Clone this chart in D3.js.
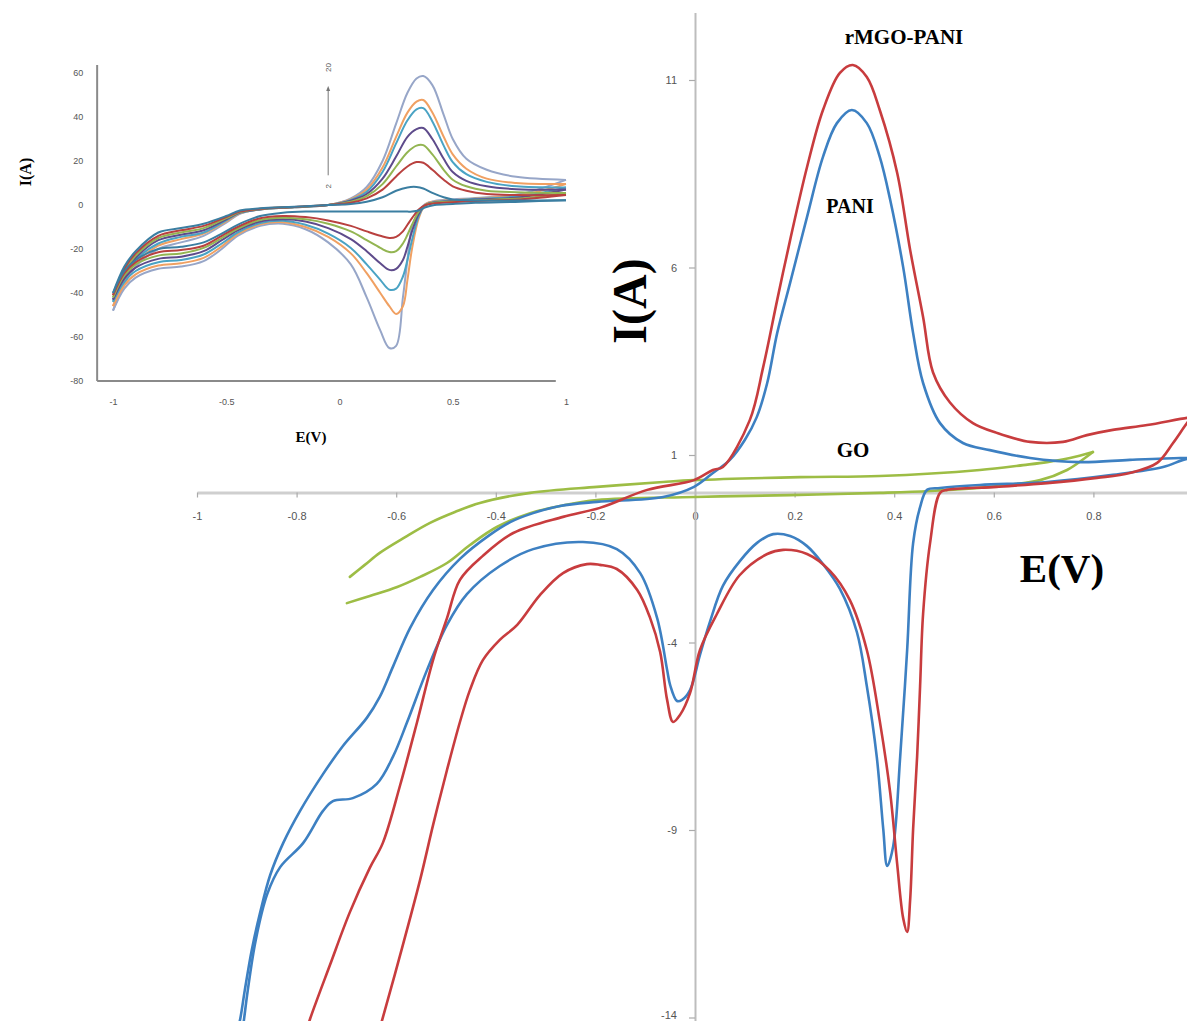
<!DOCTYPE html>
<html>
<head>
<meta charset="utf-8">
<script src="https://cdn.jsdelivr.net/npm/d3@7"></script>
<style>
html,body{margin:0;padding:0;background:#fff;}
svg{display:block;}
</style>
</head>
<body>
<svg id="chart" width="1187" height="1021"></svg>
<script>
// ---------------- main chart data (E in V, I in A) ----------------
const mainXTicks = [-1, -0.8, -0.6, -0.4, -0.2, 0, 0.2, 0.4, 0.6, 0.8];
const mainYTicks = [-14, -9, -4, 1, 6, 11];

const rmgoForward = [[-0.783,-14.47],[-0.773,-14.04],[-0.733,-12.6],[-0.693,-11.19],[-0.653,-10.01],[-0.627,-9.35],[-0.592,-7.8],[-0.558,-6.12],[-0.526,-4.47],[-0.498,-3.35],[-0.472,-2.33],[-0.426,-1.69],[-0.365,-1.08],[-0.265,-0.65],[-0.191,-0.41],[-0.096,0.07],[-0.002,0.33],[0.036,0.6],[0.056,0.68],[0.110,1.93],[0.137,3.35],[0.165,5.13],[0.191,6.73],[0.225,8.68],[0.257,10.2],[0.291,11.19],[0.317,11.4],[0.345,11.08],[0.371,10.2],[0.406,8.52],[0.432,6.47],[0.458,4.68],[0.478,3.2],[0.512,2.4],[0.558,1.85],[0.606,1.59],[0.673,1.35],[0.739,1.35],[0.787,1.53],[0.839,1.67],[0.908,1.8],[0.988,1.99],[0.998,2.0]];
const rmgoReverse = [[0.998,2.0],[0.988,1.85],[0.960,1.32],[0.928,0.79],[0.873,0.52],[0.807,0.39],[0.707,0.25],[0.606,0.15],[0.506,0.07],[0.492,-0.01],[0.472,-1.35],[0.458,-3.24],[0.452,-5.16],[0.446,-7.05],[0.438,-8.97],[0.432,-10.87],[0.426,-11.72],[0.418,-11.35],[0.406,-9.91],[0.392,-8.01],[0.371,-6.09],[0.345,-4.2],[0.311,-2.87],[0.271,-2.09],[0.225,-1.64],[0.177,-1.53],[0.145,-1.64],[0.090,-2.2],[0.044,-3.24],[0.010,-4.2],[-0.010,-5.35],[-0.030,-5.93],[-0.044,-6.12],[-0.056,-5.53],[-0.070,-4.25],[-0.090,-3.35],[-0.116,-2.6],[-0.157,-2.04],[-0.191,-1.93],[-0.217,-1.91],[-0.265,-2.15],[-0.311,-2.73],[-0.357,-3.53],[-0.392,-3.93],[-0.426,-4.47],[-0.452,-5.27],[-0.472,-6.12],[-0.498,-7.4],[-0.526,-8.87],[-0.552,-10.33],[-0.592,-12.33],[-0.627,-14.01],[-0.637,-14.47]];

const paniForward = [[-0.922,-14.47],[-0.914,-14.09],[-0.904,-13.27],[-0.890,-12.2],[-0.873,-11.19],[-0.853,-10.2],[-0.827,-9.35],[-0.793,-8.49],[-0.747,-7.51],[-0.707,-6.76],[-0.659,-6.01],[-0.633,-5.45],[-0.606,-4.63],[-0.572,-3.61],[-0.526,-2.6],[-0.472,-1.77],[-0.412,-1.13],[-0.371,-0.79],[-0.325,-0.55],[-0.271,-0.36],[-0.197,-0.25],[-0.064,-0.12],[-0.002,0.15],[0.036,0.52],[0.070,0.87],[0.100,1.4],[0.124,2.01],[0.145,2.92],[0.165,4.25],[0.191,5.59],[0.225,7.35],[0.257,8.95],[0.285,9.85],[0.315,10.2],[0.345,9.85],[0.371,8.95],[0.392,7.8],[0.418,6.01],[0.438,4.25],[0.458,2.92],[0.492,1.85],[0.538,1.32],[0.592,1.13],[0.673,0.92],[0.773,0.81],[0.873,0.87],[0.974,0.92],[0.998,0.92]];
const paniReverse = [[0.998,0.92],[0.980,0.87],[0.940,0.68],[0.839,0.47],[0.707,0.28],[0.572,0.2],[0.492,0.12],[0.466,0.07],[0.452,-0.39],[0.438,-1.35],[0.426,-4.2],[0.412,-7.05],[0.398,-9.43],[0.386,-9.96],[0.378,-8.97],[0.365,-7.05],[0.345,-5.16],[0.325,-3.72],[0.291,-2.57],[0.257,-1.91],[0.225,-1.43],[0.191,-1.16],[0.157,-1.11],[0.124,-1.35],[0.090,-1.83],[0.056,-2.49],[0.030,-3.45],[0.010,-4.33],[-0.010,-5.27],[-0.026,-5.53],[-0.036,-5.56],[-0.050,-5.13],[-0.056,-4.73],[-0.076,-3.35],[-0.110,-2.15],[-0.157,-1.51],[-0.225,-1.32],[-0.325,-1.51],[-0.392,-1.96],[-0.458,-2.71],[-0.498,-3.53],[-0.538,-4.73],[-0.578,-6.12],[-0.606,-7.03],[-0.639,-7.77],[-0.687,-8.15],[-0.727,-8.23],[-0.747,-8.49],[-0.787,-9.35],[-0.833,-9.99],[-0.859,-10.71],[-0.882,-11.93],[-0.898,-13.27],[-0.906,-14.09],[-0.910,-14.47]];

const goForward = [[-0.693,-2.25],[-0.663,-1.93],[-0.633,-1.61],[-0.582,-1.19],[-0.532,-0.81],[-0.482,-0.52],[-0.432,-0.28],[-0.331,-0.01],[-0.197,0.15],[-0.064,0.28],[-0.002,0.33],[0.211,0.41],[0.371,0.44],[0.572,0.6],[0.659,0.73],[0.707,0.81],[0.753,0.92],[0.799,1.08]];
const goReverse = [[0.799,1.08],[0.783,0.92],[0.747,0.6],[0.693,0.33],[0.592,0.15],[0.472,0.04],[0.371,-0.01],[0.191,-0.07],[-0.002,-0.12],[-0.197,-0.2],[-0.271,-0.36],[-0.331,-0.55],[-0.398,-0.92],[-0.452,-1.4],[-0.498,-1.88],[-0.552,-2.25],[-0.598,-2.52],[-0.653,-2.76],[-0.699,-2.95]];

// ---------------- inset data ----------------
const insetXTicks = [-1, -0.5, 0, 0.5, 1];
const insetYTicks = [60, 40, 20, 0, -20, -40, -60, -80];
const insetEFwd = [-1.0,-0.95,-0.9,-0.8,-0.7,-0.6,-0.5,-0.44,-0.35,-0.2,-0.05,0.05,0.12,0.19,0.25,0.3,0.34,0.37,0.41,0.46,0.5,0.56,0.65,0.78,1.0];
const insetERev = [1.0,0.8,0.6,0.5,0.42,0.38,0.35,0.32,0.3,0.28,0.25,0.22,0.18,0.12,0.05,-0.05,-0.15,-0.25,-0.35,-0.45,-0.52,-0.6,-0.7,-0.8,-0.9,-0.95,-1.0];

const fwdBlue   = [-40,-28,-21,-12.5,-10.5,-8.5,-5,-2.5,-1.5,-0.8,0,0.5,1.5,3.5,6.5,8,8.2,7.5,5.5,3.5,2.5,2.2,2,2,2.2];
const fwdRed    = [-41,-29,-22,-14,-11.5,-9.5,-5.5,-3,-1.7,-0.9,0,1,3,7,13,17.5,19.5,19.2,16,11.5,8.5,6.5,5,4.5,4.5];
const fwdGreen  = [-42,-30,-23,-15,-12.5,-10.5,-6,-3.2,-1.8,-0.9,0,1.5,4,9.5,17.5,24,27,27.2,23,16,11.5,8.5,6.5,5.8,5.5];
const fwdPurple = [-43,-31,-24,-16,-13.5,-11.5,-6.5,-3.4,-1.9,-0.9,0,2,5,12,22,31,34.5,35,30,21,15,11,8.5,7.2,7];
const fwdAqua   = [-44,-32.5,-25,-17.5,-14.5,-12.5,-7,-3.6,-2,-1,0,2.3,6,15,28,38.5,43.5,44,38,27,19.5,14,10.5,8.5,8];
const fwdOrange = [-46,-34,-26.5,-18.5,-15.5,-13,-7.5,-3.8,-2,-1,0,2.6,7,17,31,42,47,47.7,42,31,23,16.5,12,10,9.5];
const fwdGray   = [-48,-36,-28,-20,-17,-14,-8,-4,-2,-1,0,3,8.2,20,37,51,57.5,58.6,54.5,41,30,21,16,12.8,11.4];

const revBlue   = [2.2,1.5,1,0.5,0,-1,-2.5,-3,-3,-3,-3,-3,-3,-3,-3,-3,-3,-3.5,-5,-9,-13,-17,-19,-20,-25,-30,-40];
const revRed    = [4.5,2.5,1.8,1.3,0.8,0,-2,-6,-9,-12,-14.5,-15,-14,-12,-9.5,-7,-5.5,-5,-6,-10,-14,-18.5,-20.5,-21.5,-26,-31,-41];
const revGreen  = [5.5,3,2.2,1.6,1,0,-3,-9,-13.5,-17.5,-21,-21.4,-19.5,-16,-12,-8.5,-6.5,-5.8,-6.8,-10.8,-15,-19.5,-22,-23,-27,-32,-42];
const revPurple = [7,3.5,2.5,1.8,1.2,0,-4,-12,-19,-25,-29,-29.5,-26.5,-21,-15.5,-10.5,-7.5,-6.5,-7.5,-11.5,-16,-21,-23.5,-24.5,-28.5,-33.5,-43];
const revAqua   = [8,4,2.8,2,1.4,0,-5,-16,-25,-32.5,-38,-38.5,-34,-27,-19.5,-13,-9,-7.2,-8.2,-12.5,-17.5,-22.5,-25,-26,-30,-35,-44];
const revOrange = [9.5,4.5,3,2.2,1.6,0.3,-6,-20,-34,-46,-49.5,-46,-40,-31,-22,-14.5,-10,-7.8,-8.8,-13.2,-18.8,-24,-26.5,-27.5,-31.5,-36.5,-46];
const revGray   = [11.4,5,3.2,2.5,1.8,0.5,-3,-10,-25,-42,-64,-65,-57,-42,-27,-17,-11,-8.5,-9.5,-14,-20,-25.5,-28,-29,-33,-38,-48];

const insetFwdSets = [fwdGray, fwdOrange, fwdAqua, fwdPurple, fwdGreen, fwdRed, fwdBlue];
const insetRevSets = [revGray, revOrange, revAqua, revPurple, revGreen, revRed, revBlue];
const insetColors  = ["#97a6c8", "#f0a062", "#4aa3c4", "#5e4b8b", "#93b552", "#b9413f", "#3b7ea1"];
const arrowLabels = ["2", "20"];

// ---------------- drawing ----------------
const svg = d3.select("#chart");
const serif = "'Liberation Serif','Times New Roman',serif";
const fmt = d => String(+d.toFixed(1));

// main scales
const x = d3.scaleLinear().domain([-1, 1]).range([197, 1193]);
const y = d3.scaleLinear().domain([-14.1, 12.8]).range([1021.25, 12.5]);

// main axes
const gx = svg.append("g").attr("transform", `translate(0,${y(0)})`)
  .call(d3.axisBottom(x).tickValues(mainXTicks).tickSize(5).tickSizeOuter(0).tickPadding(15).tickFormat(fmt));
const gy = svg.append("g").attr("transform", `translate(${x(0)},0)`)
  .call(d3.axisLeft(y).tickValues(mainYTicks).tickSize(6).tickSizeOuter(0).tickPadding(12).tickFormat(fmt));
gx.select(".domain").attr("stroke", "#cfcfcf").attr("stroke-width", 3);
gy.select(".domain").attr("stroke", "#bdbdbd").attr("stroke-width", 2);
[gx, gy].forEach(g => {
  g.selectAll(".tick line").attr("stroke", "#aaa").attr("stroke-width", 1.2);
  g.selectAll(".tick text").attr("fill", "#555").attr("font-size", 11).attr("font-family", "'Liberation Sans',Arial,sans-serif");
});
// keep the lowest tick label inside the picture
gy.selectAll(".tick text").filter(d => d === -14).attr("dy", "0.05em");

const mainLine = d3.line().x(d => x(d[0])).y(d => y(d[1])).curve(d3.curveCatmullRom.alpha(0.5));
const mainSeries = [
  {fwd: goForward, rev: goReverse, color: "#9dbd45"},
  {fwd: paniForward, rev: paniReverse, color: "#3d80c2"},
  {fwd: rmgoForward, rev: rmgoReverse, color: "#c83c3e"}
];
mainSeries.forEach(s => {
  [s.fwd, s.rev].forEach(arr => {
    svg.append("path").datum(arr).attr("d", mainLine)
      .attr("fill", "none").attr("stroke", s.color).attr("stroke-width", 2.6)
      .attr("stroke-linejoin", "round").attr("stroke-linecap", "round");
  });
});

// main labels
svg.append("text").attr("x", 904).attr("y", 44).attr("text-anchor", "middle")
  .attr("font-family", serif).attr("font-weight", "bold").attr("font-size", 21).text("rMGO-PANI");
svg.append("text").attr("x", 850).attr("y", 213).attr("text-anchor", "middle")
  .attr("font-family", serif).attr("font-weight", "bold").attr("font-size", 20).text("PANI");
svg.append("text").attr("x", 853).attr("y", 457).attr("text-anchor", "middle")
  .attr("font-family", serif).attr("font-weight", "bold").attr("font-size", 21).text("GO");
svg.append("text").attr("transform", "translate(646,301) rotate(-90)").attr("text-anchor", "middle")
  .attr("font-family", serif).attr("font-weight", "bold").attr("font-size", 48).text("I(A)");
svg.append("text").attr("x", 1062).attr("y", 582).attr("text-anchor", "middle")
  .attr("font-family", serif).attr("font-weight", "bold").attr("font-size", 41).text("E(V)");

// ---------------- inset ----------------
const xi = d3.scaleLinear().domain([-1, 1]).range([113, 566]);
const yi = d3.scaleLinear().domain([-80, 60]).range([381, 73]);

const ins = svg.append("g");
ins.append("line").attr("x1", xi(-1.07)).attr("x2", xi(-1.07)).attr("y1", yi(63.6)).attr("y2", yi(-80))
  .attr("stroke", "#8a8a8a").attr("stroke-width", 2);
ins.append("line").attr("x1", xi(-1.07)).attr("x2", xi(0.955)).attr("y1", yi(-80)).attr("y2", yi(-80))
  .attr("stroke", "#8a8a8a").attr("stroke-width", 2);

const gix = ins.append("g").attr("transform", `translate(0,${yi(-80)})`)
  .call(d3.axisBottom(xi).tickValues(insetXTicks).tickSize(0).tickPadding(18).tickFormat(fmt));
const giy = ins.append("g").attr("transform", `translate(${xi(-1.07)},0)`)
  .call(d3.axisLeft(yi).tickValues(insetYTicks).tickSize(0).tickPadding(14).tickFormat(fmt));
[gix, giy].forEach(g => {
  g.select(".domain").remove();
  g.selectAll(".tick text").attr("fill", "#555").attr("font-size", 9).attr("font-family", "'Liberation Sans',Arial,sans-serif");
});

const insetLine = d3.line().x(d => xi(d[0])).y(d => yi(d[1])).curve(d3.curveCatmullRom.alpha(0.5));
insetFwdSets.forEach((vals, k) => {
  const fwd = insetEFwd.map((e, i) => [e, vals[i]]);
  const rev = insetERev.map((e, i) => [e, insetRevSets[k][i]]);
  [fwd, rev].forEach(arr => {
    ins.append("path").datum(arr).attr("d", insetLine)
      .attr("fill", "none").attr("stroke", insetColors[k]).attr("stroke-width", 2)
      .attr("stroke-linejoin", "round");
  });
});

// arrow showing increasing scan
const ax = xi(-0.05);
svg.append("defs").append("marker").attr("id", "arr").attr("viewBox", "0 0 10 10")
  .attr("refX", 5).attr("refY", 5).attr("markerWidth", 5).attr("markerHeight", 6).attr("orient", "auto")
  .append("path").attr("d", "M0,1 L10,5 L0,9 z").attr("fill", "#777");
ins.append("line").attr("x1", ax).attr("x2", ax).attr("y1", yi(13.5)).attr("y2", yi(53))
  .attr("stroke", "#777").attr("stroke-width", 1).attr("marker-end", "url(#arr)");
ins.append("text").attr("transform", `translate(${ax + 3},${yi(8.5)}) rotate(-90)`).attr("text-anchor", "middle")
  .attr("font-size", 8).attr("fill", "#555").attr("font-family", "'Liberation Sans',Arial,sans-serif").text(arrowLabels[0]);
ins.append("text").attr("transform", `translate(${ax + 3},${yi(62.5)}) rotate(-90)`).attr("text-anchor", "middle")
  .attr("font-size", 8).attr("fill", "#555").attr("font-family", "'Liberation Sans',Arial,sans-serif").text(arrowLabels[1]);

// inset labels
svg.append("text").attr("transform", "translate(31,172) rotate(-90)").attr("text-anchor", "middle")
  .attr("font-family", serif).attr("font-weight", "bold").attr("font-size", 16).text("I(A)");
svg.append("text").attr("x", 311).attr("y", 442).attr("text-anchor", "middle")
  .attr("font-family", serif).attr("font-weight", "bold").attr("font-size", 15).text("E(V)");
</script>
</body>
</html>
